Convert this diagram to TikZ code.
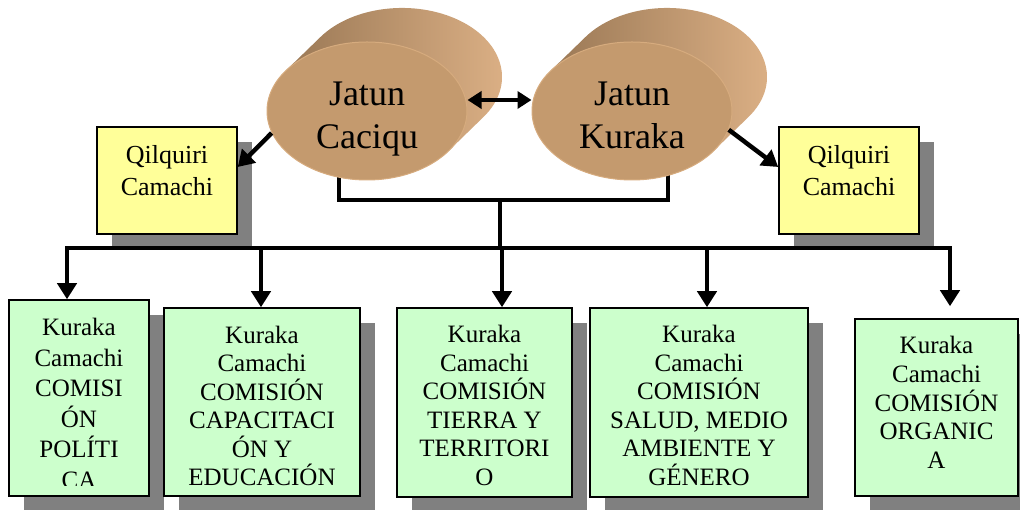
\documentclass[tikz,border=0pt]{standalone}
\usepackage{fontspec}
\setmainfont{Liberation Serif}
\usetikzlibrary{shapes.geometric,arrows.meta,shadows,calc}
\definecolor{cylfrontc}{HTML}{C49A6E}
\definecolor{cylrim}{HTML}{D6AB7E}
\definecolor{cyldark}{HTML}{9A7855}
\definecolor{cyllight}{HTML}{DEB287}
\definecolor{qyellow}{HTML}{FFFF99}
\definecolor{kgreen}{HTML}{CCFFCC}
\definecolor{shgray}{HTML}{808080}
\begin{document}
\begin{tikzpicture}[x=1pt,y=1pt,
  cylnode/.style={ellipse, minimum width=200pt, minimum height=138pt, inner sep=0pt,
    fill=cylfrontc, draw=cylrim, line width=1pt},
  cyltext/.style={inner sep=0pt, anchor=north, align=center, font=\fontsize{36}{43}\selectfont},
  cylback/.style={left color=cyldark, right color=cyllight, draw=none},
  boxbase/.style={draw=black, line width=1.5pt, inner sep=0pt,
    general shadow={fill=shgray, shadow xshift=15pt, shadow yshift=-15pt}},
  qbox/.style={boxbase, fill=qyellow, minimum width=140pt, minimum height=107pt},
  kbox/.style={boxbase, fill=kgreen},
  qtext/.style={inner sep=0pt, anchor=north, align=center, font=\fontsize{26}{32}\selectfont},
  ktext/.style={inner sep=0pt, anchor=north, align=center, font=\fontsize{25}{#1}\selectfont},
  conn/.style={line width=4.5pt},
  arr/.style={line width=4.5pt, -{Triangle[length=16pt,width=19pt]}},
  darr/.style={line width=4pt, {Triangle[length=14pt,width=17pt]}-{Triangle[length=14pt,width=17pt]}}
]
\useasboundingbox (0,0) rectangle (1020,510);

% back parts of the two cylinders
\shade[cylback] (285.5,439) -- (320.5,473)
  arc[start angle=144.6, end angle=-35.4, x radius=100, y radius=69] -- (448.5,359) -- cycle;
\shade[cylback] (550.5,439) -- (585.5,473)
  arc[start angle=144.6, end angle=-35.4, x radius=100, y radius=69] -- (713.5,359) -- cycle;

% bracket below the cylinders
\coordinate (cL) at (339,345);
\coordinate (cR) at (668,345);
\coordinate (cM) at (500,310);
\coordinate (bus) at (500,262);
\draw[conn] (cL) |- (cM) -| (cR);
\draw[conn] (cM) -- (bus);

% front faces
\node[cylnode] (jc) at (367,399) {};
\node[cylnode] (jk) at (632,399) {};
\node[cyltext] (jct) at (367,428) {Jatun\\Caciqu};
\node[cyltext] (jkt) at (632,428) {Jatun\\Kuraka};

% Qilquiri boxes
\node[qbox] (lq) at (167,329.5) {};
\node[qbox] (rq) at (849,329.5) {};
\node[qtext] (lqt) at (167,365) {Qilquiri\\Camachi};
\node[qtext] (rqt) at (849,365) {Qilquiri\\Camachi};

% Kuraka boxes
\node[kbox, minimum width=140pt, minimum height=196pt] (k1) at (79,112) {};
\node[kbox, minimum width=196pt, minimum height=188pt] (k2) at (262,108) {};
\node[kbox, minimum width=175pt, minimum height=189pt] (k3) at (484.5,107.5) {};
\node[kbox, minimum width=218pt, minimum height=189pt] (k4) at (699,107.5) {};
\node[kbox, minimum width=163pt, minimum height=177pt] (k5) at (936.5,102.5) {};

\begin{scope}
\clip (0,24) rectangle (1020,510);
\node[ktext=30.5] (k1t) at (79,192) {Kuraka\\Camachi\\COMISI\\ÓN\\POLÍTI\\CA};
\node[ktext=28.4] (k2t) at (262,184) {Kuraka\\Camachi\\COMISIÓN\\CAPACITACI\\ÓN Y\\EDUCACIÓN};
\node[ktext=28.6] (k3t) at (484.5,185) {Kuraka\\Camachi\\COMISIÓN\\TIERRA Y\\TERRITORI\\O};
\node[ktext=28.6] (k4t) at (699,185) {Kuraka\\Camachi\\COMISIÓN\\SALUD, MEDIO\\AMBIENTE Y\\GÉNERO};
\node[ktext=28.75] (k5t) at (936.5,174) {Kuraka\\Camachi\\COMISIÓN\\ORGANIC\\A};
\end{scope}

% connectors
\draw[darr] ([yshift=11pt]jc.east) -- ([yshift=11pt]jk.west);
\draw[arr] (jc.193) -- ([yshift=13.5pt]lq.east);
\draw[arr] (jk.-11) -- ([yshift=13.5pt]rq.west);

\coordinate (b1) at (67,262);
\coordinate (b2) at (261,262);
\coordinate (b3) at (502,262);
\coordinate (b4) at (707,262);
\coordinate (b5) at (950,262);
\draw[arr] (bus) -| (b1 |- k1.north);
\draw[arr] (bus) -| ($(b5 |- k5.north)+(0,12)$);
\draw[arr] (b2) -- (b2 |- k2.north);
\draw[arr] (b3) -- (b3 |- k3.north);
\draw[arr] (b4) -- (b4 |- k4.north);
\end{tikzpicture}
\end{document}
